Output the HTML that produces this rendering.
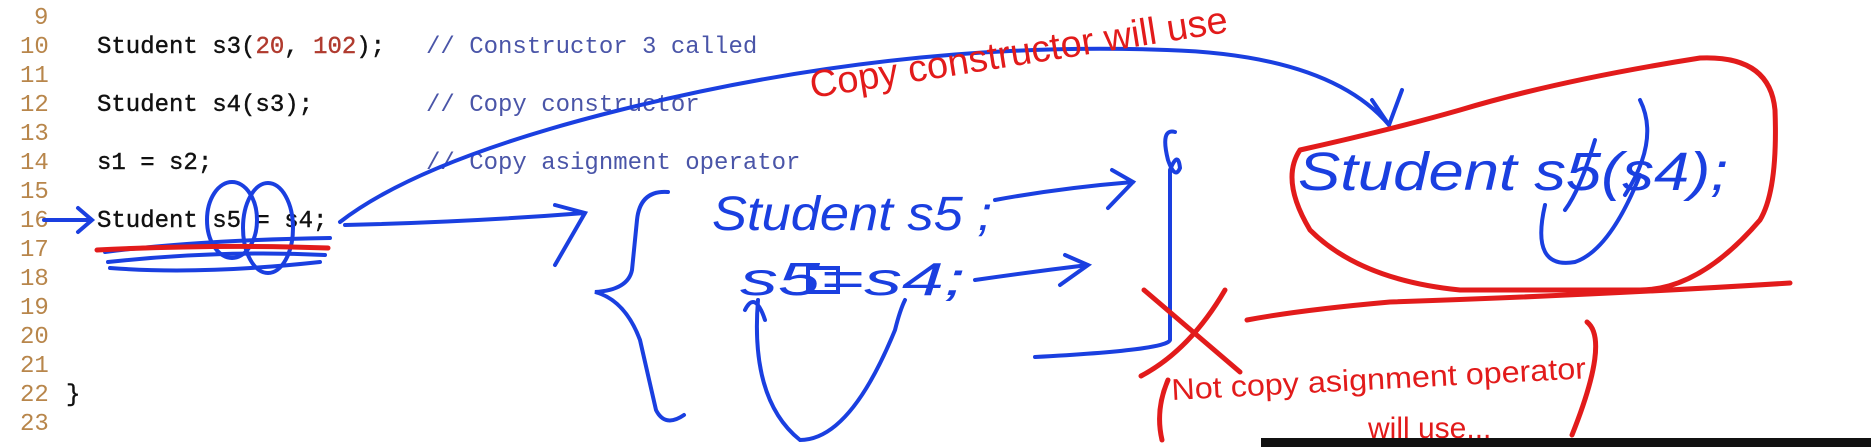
<!DOCTYPE html>
<html><head><meta charset="utf-8"><style>
html,body{margin:0;padding:0;background:#fff;}
svg{display:block}
.ln{font-family:"Liberation Mono",monospace;font-size:24px;fill:#b8864b}
.cd{font-family:"Liberation Mono",monospace;font-size:24px;fill:#111;stroke:#111;stroke-width:0.4}
.cm{font-family:"Liberation Mono",monospace;font-size:24px;fill:#4a55a8}
.nm{fill:#b03a2e;stroke:#b03a2e}
.hb{font-family:"Liberation Sans",sans-serif;font-style:italic;fill:#1a3fe0}
.hr{font-family:"Liberation Sans",sans-serif;fill:#e21b1b}
</style></head><body>
<svg width="1871" height="447" viewBox="0 0 1871 447" xmlns="http://www.w3.org/2000/svg">
<rect width="1871" height="447" fill="#fff"/>
<g class="ln">
<text x="34" y="24">9</text><text x="20" y="53">10</text><text x="20" y="82">11</text><text x="20" y="111">12</text>
<text x="20" y="140">13</text><text x="20" y="169">14</text><text x="20" y="198">15</text><text x="20" y="227">16</text>
<text x="20" y="256">17</text><text x="20" y="285">18</text><text x="20" y="314">19</text><text x="20" y="343">20</text>
<text x="20" y="372">21</text><text x="20" y="401">22</text><text x="20" y="430">23</text>
</g>
<text class="cd" x="97" y="53">Student s3(<tspan class="nm">20</tspan>, <tspan class="nm">102</tspan>);</text>
<text class="cm" x="426" y="53">// Constructor 3 called</text>
<text class="cd" x="97" y="111">Student s4(s3);</text>
<text class="cm" x="426" y="111">// Copy constructor</text>
<text class="cd" x="97" y="169">s1 = s2;</text>
<text class="cm" x="426" y="169">// Copy asignment operator</text>
<text class="cd" x="97" y="227">Student s5 = s4;</text>
<text class="cd" x="66" y="401">}</text>
<g fill="none" stroke="#1a3fe0" stroke-width="4" stroke-linecap="round">
<path d="M44 220 L90 220 M78 208 L92 220 L78 232"/>
<ellipse cx="232" cy="220" rx="25" ry="38"/>
<ellipse cx="268" cy="228" rx="25" ry="45"/>
<path d="M105 252 Q200 240 330 238 M108 262 Q220 250 325 255 M110 268 Q200 275 320 262"/>
<path d="M340 222 Q420 160 620 110 Q900 40 1167 50 Q1330 55 1389 125 M1372 100 L1389 125 L1402 90"/>
<path d="M345 225 Q470 222 585 213 M555 205 L585 213 L555 265"/>
<path d="M668 192 Q640 190 637 220 L632 270 Q628 290 595 292 Q625 300 640 340 L656 410 Q665 428 684 415"/>
<path d="M995 200 Q1060 188 1133 182 M1112 170 L1133 182 L1108 208"/>
<path d="M975 280 Q1030 272 1088 265 M1065 255 L1088 265 L1060 285"/>
<path d="M1175 132 Q1160 128 1168 160 Q1175 180 1180 168 Q1178 150 1170 170 L1170 340 Q1168 350 1035 357"/>
<path d="M745 310 Q755 290 765 320 M758 300 Q750 400 800 440 Q850 440 895 330 Q900 310 905 300"/>
<path d="M1595 140 Q1580 190 1565 210 M1640 100 Q1660 140 1625 195"/>
<path d="M1545 205 Q1530 270 1575 262 Q1610 250 1640 175"/>
</g>
<text class="hb" x="712" y="230" font-size="48" textLength="280" lengthAdjust="spacingAndGlyphs">Student s5 ;</text>
<text class="hb" x="740" y="295" font-size="46" textLength="225" lengthAdjust="spacingAndGlyphs">s5=s4;</text>
<rect x="808" y="268" width="30" height="24" fill="none" stroke="#1a3fe0" stroke-width="4"/>
<text class="hb" x="1298" y="190" font-size="54" textLength="430" lengthAdjust="spacingAndGlyphs">Student  s5(s4);</text>
<g fill="none" stroke="#e21b1b" stroke-width="5" stroke-linecap="round">
<path d="M97 250 Q220 244 328 248"/>
<path d="M1300 150 Q1390 130 1460 110 Q1560 80 1700 58 Q1770 55 1775 110 Q1778 190 1760 220 Q1700 290 1640 290 L1460 290 Q1360 280 1310 230 Q1280 180 1300 150"/>
<path d="M1247 320 Q1300 310 1390 302 Q1600 295 1790 283"/>
<path d="M1144 290 L1240 372 M1225 290 Q1190 350 1141 376"/>
<path d="M1168 380 Q1155 410 1162 440 M1587 322 Q1610 340 1572 435"/>
</g>
<text class="hr" transform="translate(812,98) rotate(-9)" font-size="38">Copy constructor  will use</text>
<text class="hr" x="1172" y="400" font-size="30" transform="rotate(-3 1172 400)" textLength="415" lengthAdjust="spacingAndGlyphs">Not copy asignment operator</text>
<text class="hr" x="1368" y="438" font-size="30">will use...</text>
<rect x="1261" y="438" width="610" height="9" fill="#111"/>
</svg>
</body></html>
